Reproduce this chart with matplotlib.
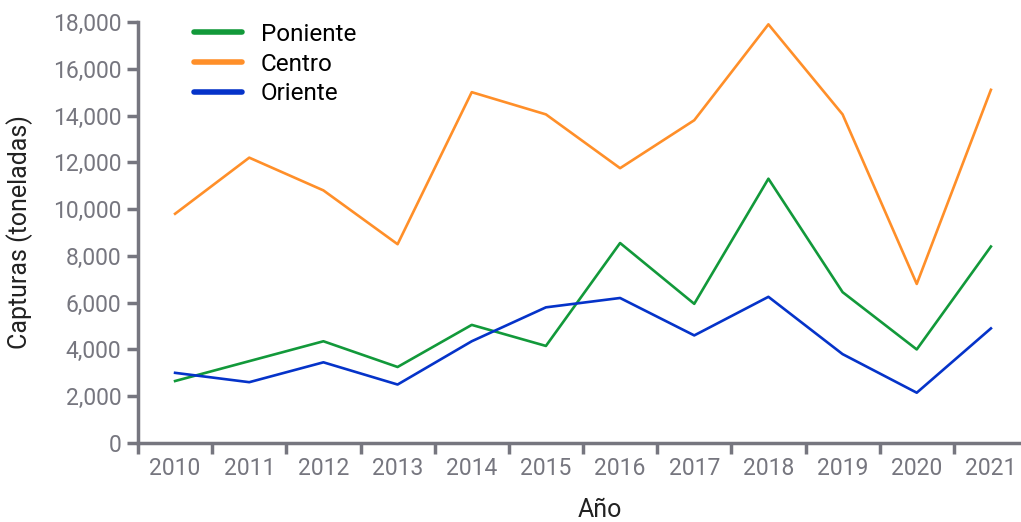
import matplotlib
matplotlib.use("Agg")
import matplotlib.pyplot as plt
from matplotlib.ticker import FuncFormatter

anios = ["2010", "2011", "2012", "2013", "2014", "2015",
         "2016", "2017", "2018", "2019", "2020", "2021"]
poniente = [2650, 3500, 4350, 3250, 5050, 4150, 8550, 5950, 11300, 6450, 4000, 8400]
centro = [9800, 12200, 10800, 8500, 15000, 14050, 11750, 13800, 17900, 14050, 6800, 15100]
oriente = [3000, 2600, 3450, 2500, 4350, 5800, 6200, 4600, 6250, 3800, 2150, 4900]

plt.rcParams['font.family'] = ['Roboto', 'DejaVu Sans']
gris = "#76767f"

fig = plt.figure(figsize=(10.21, 5.22), dpi=100)
W, H = 1021, 522
ax = fig.add_axes([138/W, 1-443/H, (1028-138)/W, (443-22)/H])

x = list(range(len(anios)))
ax.plot(x, poniente, color="#12993a", lw=1.9, label="Poniente")
ax.plot(x, centro, color="#ff8f29", lw=1.9, label="Centro")
ax.plot(x, oriente, color="#0533c9", lw=1.9, label="Oriente")

ax.set_xlim(-0.5, 11.5)
ax.set_ylim(0, 18000)
ax.set_yticks(range(0, 18001, 2000))
ax.yaxis.set_major_formatter(FuncFormatter(lambda v, p: f"{int(v):,}"))
ax.set_xticks([i - 0.5 for i in x] + [11.5])
ax.set_xticklabels([])
ax.set_xticks(x, minor=True)
ax.set_xticklabels(anios, minor=True)
ax.tick_params(axis="x", which="minor", length=0, pad=10, labelsize=16.5, labelcolor=gris)
ax.tick_params(axis="x", which="major", length=8, width=2.5, color=gris)
ax.tick_params(axis="y", length=8, width=2.5, color=gris, labelsize=16.5, labelcolor=gris, pad=4)

for s in ["top", "right"]:
    ax.spines[s].set_visible(False)
for s in ["left", "bottom"]:
    ax.spines[s].set_color(gris)
    ax.spines[s].set_linewidth(2.5)
ax.spines["left"].set_bounds(0, 18000)

ax.set_ylabel("Capturas (toneladas)", fontsize=18, color="#222222")
ax.yaxis.set_label_coords(-(138 - 20) / 890, 0.5)
ax.set_xlabel("Año", fontsize=18, color="#222222")
ax.xaxis.set_label_coords((600 - 138) / 890, -(510 - 443) / 421)
ax.xaxis.label.set_va("center")
ax.yaxis.label.set_va("center")

leg = ax.legend(loc="upper left", bbox_to_anchor=(0.038, 1.05), frameon=False,
                fontsize=17.5, handlelength=2.0, handletextpad=0.75, labelspacing=0.28)
for l in leg.get_lines():
    l.set_linewidth(4)
    l.set_solid_capstyle("round")

fig.savefig("out.png", dpi=100)
